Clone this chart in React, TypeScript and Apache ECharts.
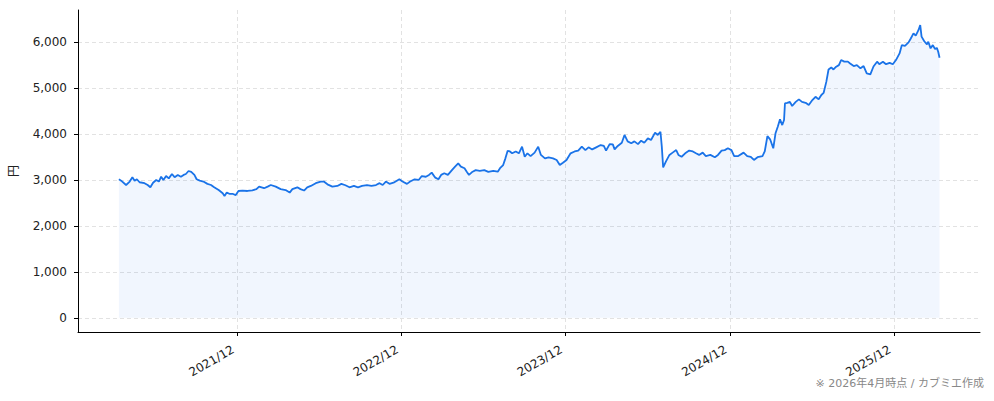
import React, { useEffect, useRef } from "react";
import * as echarts from "echarts";

// 株価（日付, 円）— 画像から読み取った値
const dates: string[] = [
  "2021-03-12", "2021-03-17", "2021-03-28", "2021-04-05", "2021-04-11", "2021-04-16", "2021-04-21", "2021-04-27",
  "2021-05-08", "2021-05-15", "2021-05-21", "2021-05-27", "2021-06-03", "2021-06-09", "2021-06-14", "2021-06-19",
  "2021-06-25", "2021-07-01", "2021-07-08", "2021-07-14", "2021-07-21", "2021-07-28", "2021-08-03", "2021-08-08",
  "2021-08-14", "2021-08-20", "2021-08-27", "2021-09-01", "2021-09-08", "2021-09-16", "2021-09-25", "2021-10-03",
  "2021-10-10", "2021-10-20", "2021-10-29", "2021-11-02", "2021-11-07", "2021-11-14", "2021-11-21", "2021-11-27",
  "2021-12-03", "2021-12-12", "2021-12-23", "2022-01-03", "2022-01-12", "2022-01-18", "2022-01-29", "2022-02-06",
  "2022-02-13", "2022-02-24", "2022-03-07", "2022-03-18", "2022-03-27", "2022-04-02", "2022-04-13", "2022-04-20",
  "2022-04-28", "2022-05-05", "2022-05-13", "2022-05-24", "2022-06-04", "2022-06-11", "2022-06-19", "2022-06-30",
  "2022-07-11", "2022-07-20", "2022-07-29", "2022-08-07", "2022-08-17", "2022-08-26", "2022-09-04", "2022-09-15",
  "2022-09-25", "2022-10-05", "2022-10-13", "2022-10-20", "2022-10-27", "2022-11-04", "2022-11-13", "2022-11-26",
  "2022-12-03", "2022-12-13", "2022-12-20", "2022-12-30", "2023-01-08", "2023-01-15", "2023-01-24", "2023-01-31",
  "2023-02-06", "2023-02-14", "2023-02-21", "2023-02-27", "2023-03-06", "2023-03-14", "2023-03-23", "2023-03-30",
  "2023-04-06", "2023-04-12", "2023-04-20", "2023-04-25", "2023-04-30", "2023-05-08", "2023-05-15", "2023-05-24",
  "2023-06-03", "2023-06-12", "2023-06-23", "2023-07-03", "2023-07-08", "2023-07-15", "2023-07-20", "2023-07-25",
  "2023-07-30", "2023-08-04", "2023-08-12", "2023-08-19", "2023-08-26", "2023-09-01", "2023-09-07", "2023-09-14",
  "2023-09-23", "2023-10-01", "2023-10-07", "2023-10-16", "2023-10-24", "2023-11-03", "2023-11-11", "2023-11-18",
  "2023-11-25", "2023-12-03", "2023-12-12", "2023-12-21", "2023-12-29", "2024-01-06", "2024-01-14", "2024-01-21",
  "2024-01-29", "2024-02-07", "2024-02-17", "2024-02-24", "2024-02-29", "2024-03-08", "2024-03-15", "2024-03-19",
  "2024-03-26", "2024-04-04", "2024-04-10", "2024-04-17", "2024-04-25", "2024-05-02", "2024-05-10", "2024-05-17",
  "2024-05-24", "2024-06-01", "2024-06-08", "2024-06-17", "2024-06-23", "2024-06-29", "2024-07-02", "2024-07-05",
  "2024-07-11", "2024-07-19", "2024-07-26", "2024-08-03", "2024-08-08", "2024-08-15", "2024-08-23", "2024-09-01",
  "2024-09-09", "2024-09-16", "2024-09-23", "2024-10-01", "2024-10-08", "2024-10-18", "2024-10-28", "2024-11-04",
  "2024-11-12", "2024-11-19", "2024-11-26", "2024-12-04", "2024-12-10", "2024-12-19", "2024-12-31", "2025-01-08",
  "2025-01-16", "2025-01-23", "2025-01-31", "2025-02-11", "2025-02-16", "2025-02-22", "2025-02-28", "2025-03-07",
  "2025-03-12", "2025-03-17", "2025-03-22", "2025-03-27", "2025-03-31", "2025-04-02", "2025-04-07", "2025-04-13",
  "2025-04-18", "2025-04-26", "2025-05-03", "2025-05-10", "2025-05-18", "2025-05-25", "2025-06-02", "2025-06-09",
  "2025-06-16", "2025-06-22", "2025-06-27", "2025-07-03", "2025-07-08", "2025-07-14", "2025-07-19", "2025-07-25",
  "2025-07-31", "2025-08-05", "2025-08-12", "2025-08-20", "2025-08-25", "2025-09-02", "2025-09-09", "2025-09-17",
  "2025-09-24", "2025-10-01", "2025-10-09", "2025-10-16", "2025-10-24", "2025-10-29", "2025-11-06", "2025-11-13",
  "2025-11-21", "2025-11-28", "2025-12-05", "2025-12-13", "2025-12-18", "2025-12-25", "2026-01-02", "2026-01-07",
  "2026-01-13", "2026-01-18", "2026-01-24", "2026-01-28", "2026-01-31", "2026-02-06", "2026-02-12", "2026-02-15",
  "2026-02-20", "2026-02-25", "2026-03-02", "2026-03-06", "2026-03-09", "2026-03-12",
];

const prices: number[] = [
  3015, 2985, 2890, 2965, 3060, 2985, 3015, 2950,
  2930, 2890, 2840, 2940, 3000, 2965, 3070, 3000,
  3085, 3035, 3130, 3060, 3110, 3070, 3110, 3130,
  3195, 3175, 3110, 3015, 2985, 2965, 2915, 2890,
  2840, 2780, 2710, 2650, 2725, 2695, 2695, 2670,
  2760, 2770, 2760, 2775, 2800, 2855, 2820, 2855,
  2890, 2855, 2800, 2780, 2725, 2800, 2840, 2800,
  2770, 2840, 2870, 2930, 2965, 2965, 2905, 2855,
  2870, 2915, 2885, 2840, 2870, 2840, 2870, 2890,
  2870, 2890, 2930, 2890, 2965, 2915, 2940, 3015,
  2965, 2915, 2965, 3015, 3000, 3085, 3070, 3110,
  3160, 3050, 3015, 3110, 3145, 3110, 3215, 3290,
  3360, 3290, 3255, 3180, 3110, 3180, 3215, 3200,
  3215, 3175, 3200, 3180, 3255, 3325, 3470, 3635,
  3620, 3580, 3620, 3580, 3725, 3505, 3580, 3520,
  3595, 3725, 3545, 3470, 3490, 3470, 3435, 3325,
  3375, 3435, 3580, 3620, 3640, 3725, 3650, 3710,
  3665, 3710, 3760, 3740, 3640, 3780, 3775, 3665,
  3740, 3810, 3980, 3840, 3800, 3840, 3780, 3855,
  3810, 3905, 3870, 4030, 3980, 4050, 3725, 3275,
  3400, 3545, 3595, 3650, 3545, 3505, 3580, 3640,
  3620, 3580, 3545, 3595, 3520, 3545, 3495, 3545,
  3640, 3650, 3690, 3650, 3520, 3520, 3595, 3520,
  3505, 3435, 3495, 3520, 3620, 3955, 3885, 3690,
  4015, 4160, 4320, 4195, 4305, 4665, 4680, 4700,
  4610, 4700, 4755, 4700, 4680, 4630, 4740, 4810,
  4755, 4850, 4895, 5135, 5405, 5450, 5405, 5465,
  5500, 5610, 5575, 5575, 5535, 5480, 5500, 5430,
  5480, 5320, 5300, 5470, 5575, 5520, 5575, 5520,
  5550, 5520, 5610, 5755, 5935, 5920, 5995, 6080,
  6190, 6140, 6260, 6370, 6120, 6020, 5950, 6010,
  5865, 5935, 5850, 5875, 5790, 5660,
];

// 目盛り
const xTicks: string[] = ["2021-12-01", "2022-12-01", "2023-12-01", "2024-12-01", "2025-12-01"];
const yTicks: number[] = [0, 1000, 2000, 3000, 4000, 5000, 6000];

const FONT = "'DejaVu Sans', 'Noto Sans CJK JP', sans-serif";

const App: React.FC = () => {
  const chartRef = useRef<HTMLDivElement>(null);

  useEffect(() => {
    if (!chartRef.current) return;
    document.body.style.margin = "0";
    const chart = echarts.init(chartRef.current, undefined, { renderer: "svg" });

    const toTs = (s: string) => {
      const [y, m, d] = s.split("-").map(Number);
      return new Date(y, m - 1, d).getTime();
    };
    const tickTs = xTicks.map(toTs);

    chart.setOption({
      animation: false,
      textStyle: { fontFamily: FONT },
      grid: { left: 75, right: 14, top: 10, bottom: 69, containLabel: false },
      xAxis: {
        type: "value",
        min: toTs("2020-12-11"),
        max: toTs("2026-06-10"),
        axisLine: { show: true, onZero: false, lineStyle: { color: "#000", width: 1 } },
        axisTick: { show: true, length: 4, customValues: tickTs, lineStyle: { color: "#000" } },
        axisLabel: {
          customValues: tickTs,
          rotate: 30,
          margin: 14,
          padding: [0, 5, 0, 0],
          color: "#222",
          fontSize: 12,
          fontFamily: FONT,
          formatter: (v: number) => {
            const d = new Date(v);
            return `${d.getFullYear()}/${d.getMonth() + 1}`;
          },
        },
        splitLine: { show: true, lineStyle: { color: "#e2e2e2", type: [4, 3], width: 1 } },
      },
      yAxis: {
        type: "value",
        min: -310,
        max: 6700,
        name: "円",
        nameLocation: "middle",
        nameGap: 58,
        nameRotate: 90,
        nameTextStyle: { color: "#222", fontSize: 12, fontFamily: FONT },
        axisLine: { show: true, onZero: false, lineStyle: { color: "#000", width: 1 } },
        axisTick: { show: true, length: 4, customValues: yTicks, lineStyle: { color: "#000" } },
        axisLabel: {
          customValues: yTicks,
          margin: 11,
          color: "#222",
          fontSize: 12,
          fontFamily: FONT,
          formatter: (v: number) => v.toLocaleString("en-US"),
        },
        splitLine: { show: true, lineStyle: { color: "#e2e2e2", type: [4, 3], width: 1 } },
      },
      series: [
        {
          type: "line",
          data: dates.map((d, i) => [toTs(d), prices[i]]),
          showSymbol: false,
          symbol: "none",
          lineStyle: { color: "#1a73e8", width: 1.8 },
          areaStyle: { color: "rgba(26,115,232,0.09)", origin: 0 },
        },
      ],
      graphic: [
        {
          type: "text",
          right: 10,
          top: 378,
          style: {
            text: "※ 2026年4月時点 / カブミエ作成",
            fill: "#888",
            fontSize: 11,
            fontFamily: FONT,
          },
        },
      ],
    });

    const handleResize = () => chart.resize();
    window.addEventListener("resize", handleResize);
    return () => {
      chart.dispose();
      window.removeEventListener("resize", handleResize);
    };
  }, []);

  return <div ref={chartRef} style={{ width: "994px", height: "401px" }} />;
};

export default App;
